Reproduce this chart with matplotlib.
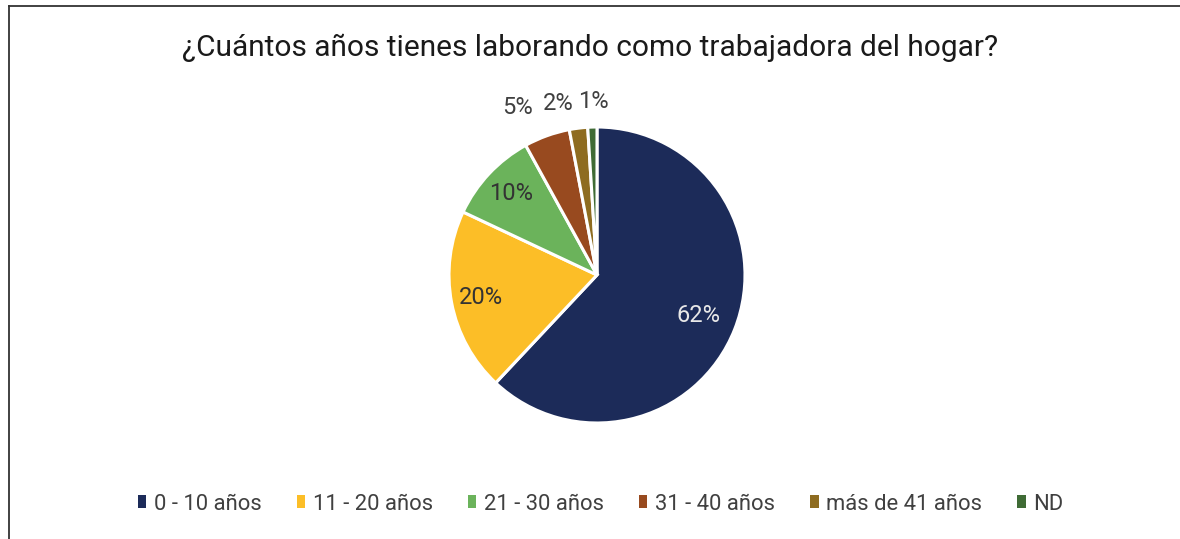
import numpy as np
import matplotlib
matplotlib.use('Agg')
import matplotlib.pyplot as plt
from matplotlib.patches import Patch
from matplotlib.lines import Line2D

plt.rcParams['font.family'] = ['Roboto', 'DejaVu Sans']

# ── Data ──────────────────────────────────────────────────────────────────────
categories = ['0 - 10 años', '11 - 20 años', '21 - 30 años', '31 - 40 años',
              'más de 41 años', 'ND']
values     = [62, 20, 10, 5, 2, 1]
pct_labels = ['62%', '20%', '10%', '5%', '2%', '1%']
colors     = ['#1C2B59', '#FCBE27', '#6BB35B', '#984A1F', '#8E6C20', '#3F6B35']

title = '¿Cuántos años tienes laborando como trabajadora del hogar?'

# ── Figure ────────────────────────────────────────────────────────────────────
W, H = 1180, 539
fig = plt.figure(figsize=(W / 100, H / 100), dpi=100)
fig.patch.set_facecolor('white')

# frame lines (top and left, like the cropped chart border)
fig.add_artist(Line2D([9 / W, 9 / W], [0, 1 - 6 / H], color='#333333', lw=1.3))
fig.add_artist(Line2D([9 / W, 1], [1 - 6 / H, 1 - 6 / H], color='#333333', lw=1.3))

cx, cy, r = 597, 275, 148
ax = fig.add_axes([(cx - r) / W, (H - cy - r) / H, 2 * r / W, 2 * r / H])
wedges, _ = ax.pie(values, colors=colors, startangle=90, counterclock=False,
                   radius=1, wedgeprops=dict(edgecolor='white', linewidth=2.2))
ax.set_xlim(-1, 1)
ax.set_ylim(-1, 1)
ax.set_aspect('equal')
ax.axis('off')

# label distances from centre (fraction of radius), outside for the small slices
dists   = [0.74, 0.80, 0.80, 1.25, 1.19, 1.17]
shifts  = [0.0, 0.0, 0.0, -5.5, -5.6, 0.5]   # extra angular shift in degrees
txt_col = ['#E8E8E8', '#333333', '#333333', '#404040', '#404040', '#404040']
for w, lab, d, s, c in zip(wedges, pct_labels, dists, shifts, txt_col):
    ang = np.deg2rad((w.theta1 + w.theta2) / 2 - s)
    ax.text(d * np.cos(ang), d * np.sin(ang), lab, ha='center', va='center',
            fontsize=17, color=c, clip_on=False)

fig.text(0.5, 1 - 48 / H, title, ha='center', va='center', fontsize=21.5,
         color='#1A1A1A')

handles = [Patch(facecolor=c, edgecolor='none') for c in colors]
fig.legend(handles, categories, loc='center', bbox_to_anchor=(0.509, 1 - 504 / H),
           ncol=6, frameon=False, fontsize=15.8, handlelength=0.38, handleheight=0.55,
           columnspacing=1.6, handletextpad=0.35, labelcolor='#404040')

fig.savefig('out.png', dpi=100, facecolor='white')
